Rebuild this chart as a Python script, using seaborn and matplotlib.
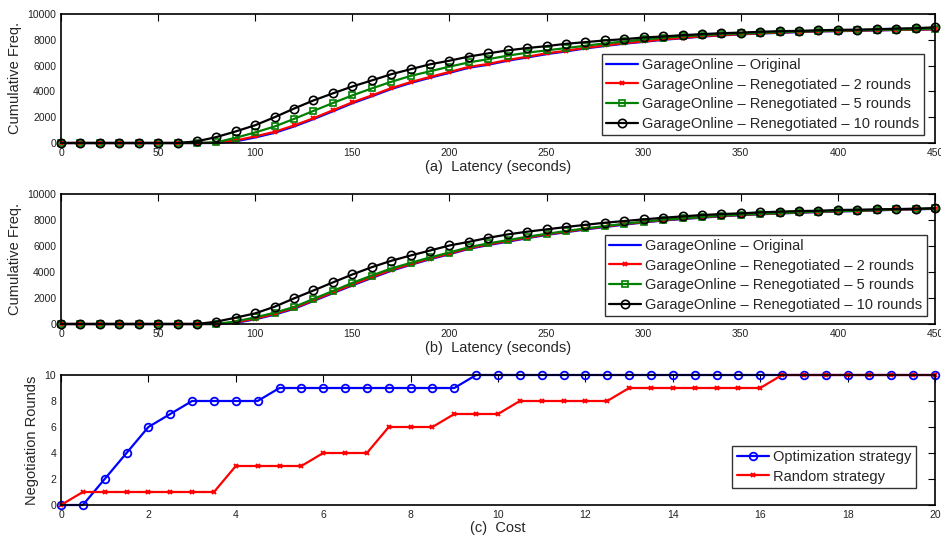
import numpy as np
import pandas as pd
import matplotlib
matplotlib.use("Agg")
import matplotlib.pyplot as plt
import seaborn as sns

# ---------------- data ----------------
latency = list(range(0, 451, 10))

a_original = [0, 0, 0, 0, 0, 0, 0, 0, 0, 130, 430, 790, 1280, 1850, 2460, 3080, 3620, 4180,
              4650, 5060, 5440, 5830, 6070, 6380, 6630, 6890, 7100, 7330, 7520, 7700, 7840,
              8000, 8120, 8250, 8340, 8420, 8490, 8540, 8600, 8650, 8670, 8700, 8730, 8760,
              8780, 8810]
a_reneg2 = [0, 0, 0, 0, 0, 0, 0, 0, 20, 200, 510, 870, 1360, 1920, 2540, 3150, 3690, 4250,
            4720, 5120, 5510, 5900, 6130, 6440, 6690, 6950, 7150, 7380, 7560, 7740, 7870,
            8030, 8150, 8280, 8360, 8440, 8510, 8560, 8620, 8670, 8690, 8720, 8740, 8770,
            8790, 8820]
a_reneg5 = [0, 0, 0, 0, 0, 0, 0, 0, 50, 410, 820, 1280, 1870, 2490, 3100, 3690, 4230, 4740,
            5200, 5560, 5920, 6250, 6500, 6770, 7000, 7180, 7360, 7540, 7720, 7870, 8030,
            8150, 8280, 8360, 8440, 8490, 8540, 8600, 8640, 8690, 8720, 8740, 8770, 8790,
            8820, 8870]
a_reneg10 = [0, 0, 0, 0, 0, 0, 0, 130, 460, 900, 1380, 2000, 2670, 3300, 3850, 4380, 4850,
             5330, 5720, 6100, 6380, 6700, 6950, 7180, 7360, 7510, 7690, 7820, 7950, 8050,
             8180, 8260, 8360, 8440, 8510, 8560, 8620, 8670, 8690, 8740, 8770, 8790, 8820,
             8870, 8900, 8970]

b_original = [0, 0, 0, 0, 0, 0, 0, 0, 0, 90, 360, 720, 1170, 1770, 2370, 2970, 3540, 4090,
              4550, 4980, 5370, 5780, 6070, 6330, 6600, 6850, 7060, 7270, 7460, 7640, 7810,
              7960, 8070, 8180, 8280, 8370, 8440, 8500, 8560, 8610, 8660, 8690, 8740, 8790,
              8820, 8860]
b_reneg2 = [0, 0, 0, 0, 0, 0, 0, 0, 0, 130, 410, 780, 1230, 1830, 2430, 3030, 3600, 4150,
            4600, 5030, 5420, 5830, 6120, 6380, 6650, 6890, 7100, 7310, 7500, 7680, 7840,
            7990, 8100, 8210, 8310, 8390, 8460, 8520, 8580, 8630, 8680, 8700, 8760, 8810,
            8830, 8880]
b_reneg5 = [0, 0, 0, 0, 0, 0, 0, 0, 0, 200, 510, 870, 1310, 1930, 2540, 3160, 3730, 4270,
            4700, 5120, 5500, 5910, 6200, 6450, 6710, 6940, 7150, 7350, 7530, 7710, 7870,
            8020, 8120, 8230, 8330, 8410, 8480, 8530, 8590, 8640, 8690, 8710, 8770, 8820,
            8840, 8890]
b_reneg10 = [0, 0, 0, 0, 0, 0, 0, 0, 180, 490, 820, 1330, 1970, 2580, 3200, 3810, 4370,
             4860, 5270, 5650, 6040, 6320, 6630, 6890, 7100, 7280, 7460, 7630, 7790, 7920,
             8050, 8170, 8280, 8380, 8460, 8510, 8590, 8640, 8690, 8710, 8770, 8790, 8820,
             8840, 8870, 8900]

cost = [i * 0.5 for i in range(41)]
optimization = [0, 0, 2, 4, 6, 7, 8, 8, 8, 8, 9, 9, 9, 9, 9, 9, 9, 9, 9, 10, 10, 10, 10, 10,
                10, 10, 10, 10, 10, 10, 10, 10, 10, 10, 10, 10, 10, 10, 10, 10, 10]
random_strategy = [0, 1, 1, 1, 1, 1, 1, 1, 3, 3, 3, 3, 4, 4, 4, 6, 6, 6, 7, 7, 7, 8, 8, 8, 8,
                   8, 9, 9, 9, 9, 9, 9, 9, 10, 10, 10, 10, 10, 10, 10, 10]

lat_labels = ["GarageOnline \u2013 Original",
              "GarageOnline \u2013 Renegotiated \u2013 2 rounds",
              "GarageOnline \u2013 Renegotiated \u2013 5 rounds",
              "GarageOnline \u2013 Renegotiated \u2013 10 rounds"]
cost_labels = ["Optimization strategy", "Random strategy"]

# ---------------- style ----------------
sns.set_theme(style="white")
plt.rcParams["font.family"] = ["Liberation Sans", "DejaVu Sans"]
plt.rcParams["axes.linewidth"] = 1.0
plt.rcParams["axes.edgecolor"] = "black"

fig = plt.figure(figsize=(9.41, 5.36), dpi=100)
left = 61 / 941
width = (935 - 61) / 941
ax_a = fig.add_axes([left, 1 - 143 / 536, width, 129 / 536])
ax_b = fig.add_axes([left, 1 - 324 / 536, width, 130 / 536])
ax_c = fig.add_axes([left, 1 - 505 / 536, width, 130 / 536])

GREEN = (0, 0.5, 0)
lw = 1.6
LEG = dict(loc="lower right", borderaxespad=0, fontsize=10.5, frameon=True,
           fancybox=False, edgecolor="black", handlelength=2.2, handletextpad=0.3,
           labelspacing=0.38, borderpad=0.3)


def latency_panel(ax, series, xlabel, anchor):
    styles = [
        dict(color="blue", marker=None),
        dict(color="red", marker="x", markersize=3.5, markeredgewidth=1.4,
             markeredgecolor="red"),
        dict(color=GREEN, marker="s", markersize=5, markerfacecolor="none",
             markeredgecolor=GREEN, markeredgewidth=1.2),
        dict(color="black", marker="o", markersize=6, markerfacecolor="none",
             markeredgecolor="black", markeredgewidth=1.2),
    ]
    for vals, lab, st in zip(series, lat_labels, styles):
        sns.lineplot(x=latency, y=vals, ax=ax, label=lab, linewidth=lw, **st)
    ax.set_xlim(0, 450)
    ax.set_ylim(0, 10000)
    ax.set_xticks(range(0, 451, 50))
    ax.set_yticks(range(0, 10001, 2000))
    ax.set_ylabel("Cumulative Freq.", fontsize=10.5, labelpad=4)
    ax.set_xlabel(xlabel, fontsize=10.5, labelpad=1.5)
    leg = ax.legend(bbox_to_anchor=anchor, **LEG)
    leg.get_frame().set_linewidth(1.0)


def style_ticks(ax):
    ax.tick_params(direction="in", length=5, width=0.8, top=True, right=True,
                   labelsize=7.5, pad=3.5, colors="black")
    ax.tick_params(axis="both", which="both", labelcolor="#222222")
    for s in ax.spines.values():
        s.set_visible(True)
        s.set_color("black")
        s.set_linewidth(1.2)


latency_panel(ax_a, [a_original, a_reneg2, a_reneg5, a_reneg10],
              "(a)  Latency (seconds)", (0.9874, 0.062))
latency_panel(ax_b, [b_original, b_reneg2, b_reneg5, b_reneg10],
              "(b)  Latency (seconds)", (0.9908, 0.0615))

sns.lineplot(x=cost, y=optimization, ax=ax_c, label=cost_labels[0], color="blue",
             linewidth=lw, marker="o", markersize=5.5, markerfacecolor="none",
             markeredgecolor="blue", markeredgewidth=1.3)
sns.lineplot(x=cost, y=random_strategy, ax=ax_c, label=cost_labels[1], color="red",
             linewidth=lw, marker="x", markersize=3.5, markeredgewidth=1.4,
             markeredgecolor="red")
ax_c.set_xlim(0, 20)
ax_c.set_ylim(0, 10)
ax_c.set_xticks(range(0, 21, 2))
ax_c.set_yticks(range(0, 11, 2))
ax_c.set_ylabel("Negotiation Rounds", fontsize=10.5, labelpad=4)
ax_c.set_xlabel("(c)  Cost", fontsize=10.5, labelpad=0.5)
leg = ax_c.legend(bbox_to_anchor=(0.978, 0.131), **LEG)
leg.get_frame().set_linewidth(1.0)

for ax in (ax_a, ax_b, ax_c):
    style_ticks(ax)
    for ln in ax.get_lines():
        ln.set_clip_on(False)

fig.savefig("out.png", dpi=100)
